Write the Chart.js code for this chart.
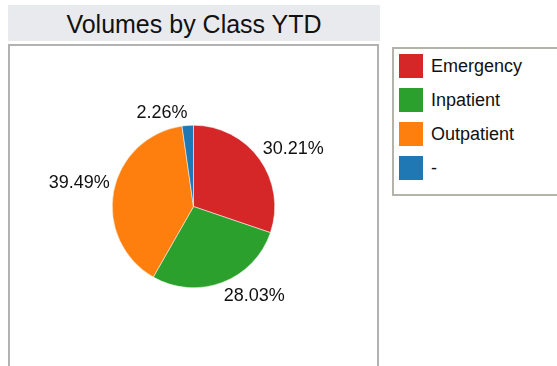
<!DOCTYPE html>
<html>
<head>
  <meta charset="UTF-8">
  <title>Volumes by Class YTD</title>
  <script src="https://cdn.jsdelivr.net/npm/chart.js"></script>
  <style>
    body { margin: 0; width: 557px; height: 366px; overflow: hidden; background: #fff;
           font-family: "Liberation Sans", Arial, sans-serif; color: #111; position: relative; }
    #title { position: absolute; left: 8px; top: 5px; width: 372px; height: 36px; background: #e9eaee;
             font-size: 25px; line-height: 38px; text-align: center; }
    #frame { position: absolute; left: 8px; top: 44px; width: 367px; height: 340px;
             border: 2px solid #b2b2b2; }
    #legend { position: absolute; left: 392px; top: 47px; width: 180px; height: 145px;
              border: 2px solid #b4b3aa; }
    .item { position: absolute; left: 5px; height: 24px; font-size: 18px; line-height: 24px; }
    .item span { display: inline-block; width: 24px; height: 24px; vertical-align: top; margin-right: 8px; }
    #pie { position: absolute; left: 0; top: 0; }
  </style>
</head>
<body>
  <div id="title">Volumes by Class YTD</div>
  <div id="frame"></div>
  <div id="legend"></div>
  <canvas id="pie" width="557" height="366"></canvas>
  <script>
    const classes = ['Emergency', 'Inpatient', 'Outpatient', '-'];
    const shares = [30.21, 28.03, 39.49, 2.26];
    const colors = ['#d62728', '#2ca02c', '#ff7f0e', '#1f77b4'];

    // legend box on the right
    const legend = document.getElementById('legend');
    classes.forEach((c, i) => {
      const row = document.createElement('div');
      row.className = 'item';
      row.style.top = (5 + i * 34) + 'px';
      row.innerHTML = '<span style="background:' + colors[i] + '"></span>' + c;
      legend.appendChild(row);
    });

    // percentage labels just outside each slice
    const outsideLabels = {
      id: 'outsideLabels',
      afterDatasetsDraw(chart) {
        const ctx = chart.ctx;
        const meta = chart.getDatasetMeta(0);
        ctx.save();
        ctx.font = '18px "Liberation Sans", Arial, sans-serif';
        ctx.fillStyle = '#111';
        meta.data.forEach((arc, i) => {
          const p = arc.getProps(['x', 'y', 'startAngle', 'endAngle', 'outerRadius'], true);
          const mid = (p.startAngle + p.endAngle) / 2;
          const r = p.outerRadius + 4;
          const x = p.x + Math.cos(mid) * r;
          const y = p.y + Math.sin(mid) * r;
          ctx.textAlign = Math.cos(mid) >= 0 ? 'left' : 'right';
          if (Math.sin(mid) < 0) {
            ctx.textBaseline = 'alphabetic';
            ctx.fillText(shares[i].toFixed(2) + '%', x, y - 3);
          } else {
            ctx.textBaseline = 'top';
            ctx.fillText(shares[i].toFixed(2) + '%', x, y + 1);
          }
        });
        ctx.restore();
      }
    };

    new Chart(document.getElementById('pie'), {
      type: 'pie',
      data: {
        labels: classes,
        datasets: [{ data: shares, backgroundColor: colors, borderColor: '#ffffff', borderWidth: 0.5 }]
      },
      options: {
        responsive: false,
        animation: false,
        layout: { padding: { left: 112, right: 282, top: 125, bottom: 78 } },
        plugins: { legend: { display: false }, tooltip: { enabled: false } }
      },
      plugins: [outsideLabels]
    });
  </script>
</body>
</html>
